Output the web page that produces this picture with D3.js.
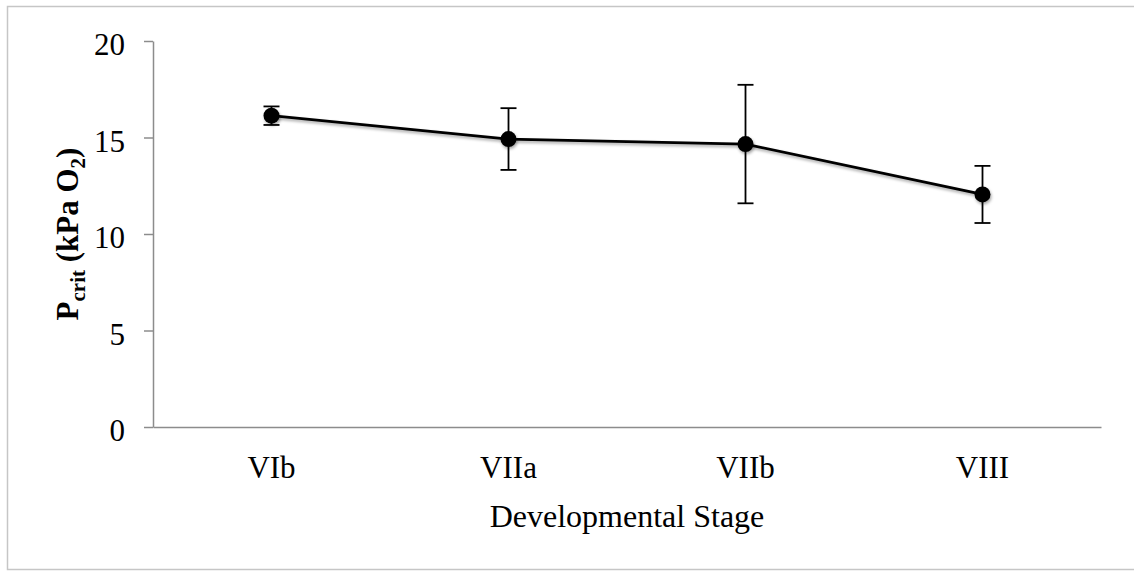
<!DOCTYPE html>
<html>
<head>
<meta charset="utf-8">
<script src="https://cdn.jsdelivr.net/npm/d3@7"></script>
<style>
  body { margin: 0; background: #fff; }
  svg { display: block; font-family: "Liberation Serif", "Times New Roman", serif; }
</style>
</head>
<body>
<div id="container"></div>
<script>
/* DATA */
const stages = ["VIb", "VIIa", "VIIb", "VIII"];
const pcrit = [16.13, 14.92, 14.66, 12.05];
const errs = [0.48, 1.6, 3.07, 1.48];
const yTicks = [0, 5, 10, 15, 20];

/* CONSTANTS */
const W = 1134, H = 571;
const margin = {top: 41, left: 153, right: 33, bottom: 144};
const plotW = W - margin.left - margin.right,
      plotH = H - margin.top - margin.bottom;

const data = stages.map((s, i) => ({stage: s, value: pcrit[i], err: errs[i]}));

const svg = d3.select("#container")
  .append("svg")
   .attr("width", W)
   .attr("height", H);

// outer chart border
svg.append("rect")
  .attr("x", 7.5).attr("y", 6.5)
  .attr("width", W + 10).attr("height", 563)
  .attr("fill", "#fff")
  .attr("stroke", "#c6c6c6")
  .attr("stroke-width", 1.5);

const defs = svg.append("defs");
defs.append("filter")
  .attr("id", "shadow")
  .attr("x", "-50%").attr("y", "-50%").attr("width", "200%").attr("height", "200%")
  .append("feDropShadow")
   .attr("dx", 1).attr("dy", 2).attr("stdDeviation", 1.5)
   .attr("flood-color", "#000").attr("flood-opacity", 0.35);

const g = svg.append("g")
  .attr("transform", "translate(" + margin.left + "," + margin.top + ")");

/* SCALES */
const xScale = d3.scaleBand()
  .domain(stages)
  .range([0, plotW])
  .padding(0);

const yScale = d3.scaleLinear()
  .domain([0, 20])
  .range([plotH, 0]);

const cx = d => xScale(d.stage) + xScale.bandwidth() / 2;

/* AXES */
const yAxis = g.append("g")
  .call(d3.axisLeft(yScale).tickValues(yTicks).tickSize(9).tickPadding(19).tickSizeOuter(0));
yAxis.select(".domain").attr("stroke", "#8c8c8c").attr("stroke-width", 1.5);
yAxis.selectAll(".tick line").attr("stroke", "#8c8c8c").attr("stroke-width", 1.5);
yAxis.selectAll(".tick text")
  .attr("font-family", "Liberation Serif, serif")
  .attr("font-size", 31)
  .attr("fill", "#000")
  .attr("dy", "0.45em");

const xAxis = g.append("g")
  .attr("transform", "translate(0," + plotH + ")")
  .call(d3.axisBottom(xScale).tickSize(0).tickSizeOuter(0));
xAxis.select(".domain").attr("stroke", "#8c8c8c").attr("stroke-width", 1.5);
xAxis.selectAll(".tick text")
  .attr("font-family", "Liberation Serif, serif")
  .attr("font-size", 31)
  .attr("fill", "#000")
  .attr("y", 51)
  .attr("dy", 0);

// axis titles
g.append("text")
  .attr("x", plotW / 2)
  .attr("y", plotH + 100)
  .attr("text-anchor", "middle")
  .attr("font-size", 32)
  .text("Developmental Stage");

const yTitle = g.append("text")
  .attr("transform", "translate(" + (78 - margin.left) + "," + (plotH / 2) + ") rotate(-90)")
  .attr("text-anchor", "middle")
  .attr("font-size", 31)
  .attr("font-weight", "bold");
yTitle.append("tspan").text("P");
yTitle.append("tspan").attr("font-size", 21).attr("dy", 7).text("crit");
yTitle.append("tspan").attr("dy", -7).text(" (kPa O");
yTitle.append("tspan").attr("font-size", 21).attr("dy", 7).text("2");
yTitle.append("tspan").attr("dy", -7).text(")");

/* ERROR BARS */
const eb = g.selectAll("g.err")
  .data(data)
  .join("g")
  .attr("class", "err")
  .attr("stroke", "#000")
  .attr("stroke-width", 1.8);

eb.append("line")
  .attr("x1", cx).attr("x2", cx)
  .attr("y1", d => yScale(d.value + d.err))
  .attr("y2", d => yScale(d.value - d.err));
eb.append("line")
  .attr("x1", d => cx(d) - 8).attr("x2", d => cx(d) + 8)
  .attr("y1", d => yScale(d.value + d.err))
  .attr("y2", d => yScale(d.value + d.err));
eb.append("line")
  .attr("x1", d => cx(d) - 8).attr("x2", d => cx(d) + 8)
  .attr("y1", d => yScale(d.value - d.err))
  .attr("y2", d => yScale(d.value - d.err));

/* LINE + MARKERS */
const line = d3.line()
  .x(cx)
  .y(d => yScale(d.value));

g.append("path")
  .datum(data)
  .attr("d", line)
  .attr("fill", "none")
  .attr("stroke", "#000")
  .attr("stroke-width", 2.8)
  .attr("filter", "url(#shadow)");

g.selectAll("circle.pt")
  .data(data)
  .join("circle")
  .attr("class", "pt")
  .attr("cx", cx)
  .attr("cy", d => yScale(d.value))
  .attr("r", 8)
  .attr("fill", "#000")
  .attr("filter", "url(#shadow)");
</script>
</body>
</html>
